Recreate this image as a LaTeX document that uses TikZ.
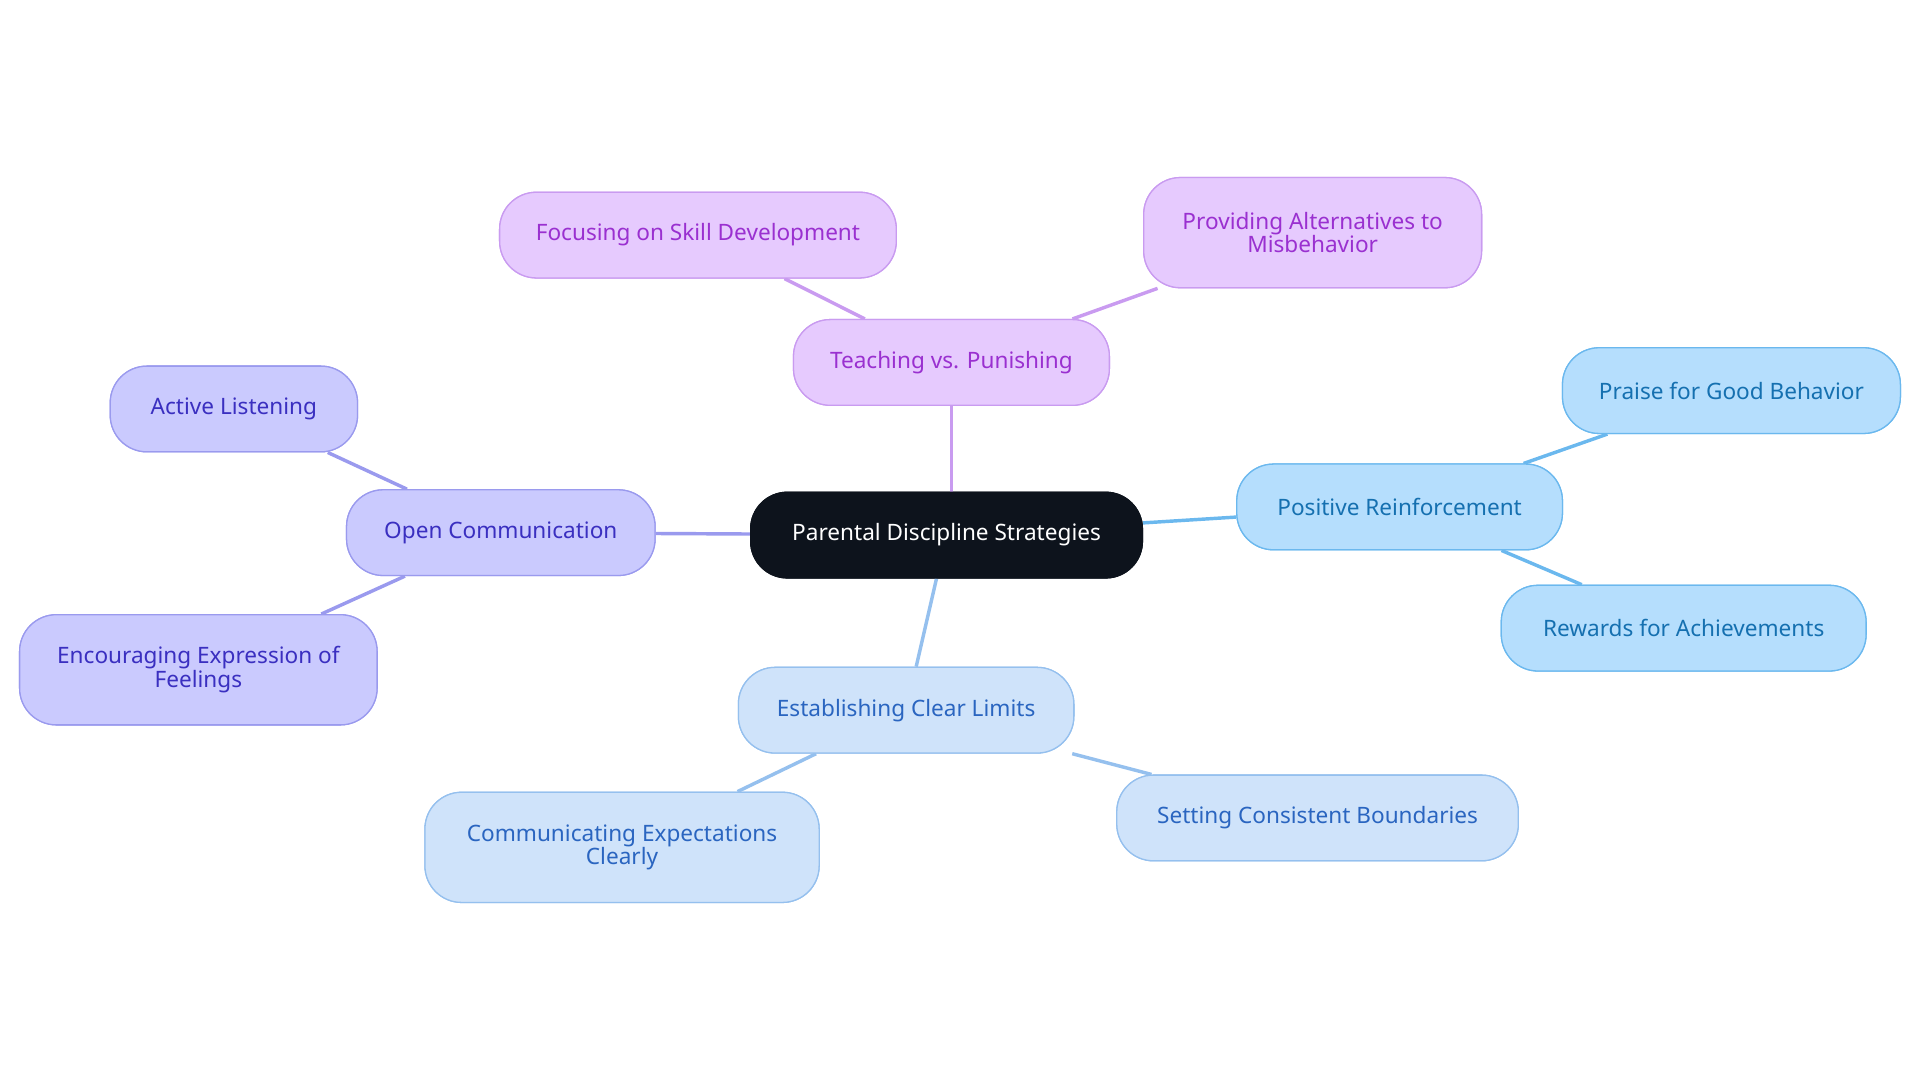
\documentclass[tikz,border=0pt]{standalone}
\usepackage{fontspec}
\setmainfont{Noto Sans}
\usetikzlibrary{positioning}
\definecolor{rootfill}{HTML}{0D131C}
\definecolor{tpfill}{HTML}{E6CAFE}\definecolor{tpline}{HTML}{C99BF0}\definecolor{tptext}{HTML}{9A30D0}
\definecolor{ocfill}{HTML}{CACAFE}\definecolor{ocline}{HTML}{9A9AEE}\definecolor{octext}{HTML}{3A2FC0}
\definecolor{prfill}{HTML}{B5DEFD}\definecolor{prline}{HTML}{6BB8EE}\definecolor{prtext}{HTML}{1570B0}
\definecolor{clfill}{HTML}{CFE3FA}\definecolor{clline}{HTML}{95C0EE}\definecolor{cltext}{HTML}{2A65C0}
\begin{document}
\begin{tikzpicture}[x=0.02cm,y=-0.02cm,
        box/.style={rounded corners=0.6cm, align=center, minimum height=1.4cm, inner sep=2pt, font=\fontsize{10.5}{11}\selectfont, line width=0.6pt},
        tall/.style={minimum height=1.8cm},
        root/.style={box, fill=rootfill, draw=rootfill, text=white},
        tp/.style={box, fill=tpfill, draw=tpline, text=tptext},
        oc/.style={box, fill=ocfill, draw=ocline, text=octext},
        pr/.style={box, fill=prfill, draw=prline, text=prtext},
        cl/.style={box, fill=clfill, draw=clline, text=cltext},
        link/.style={line width=1.6pt}
    ]
    \useasboundingbox (0,0) rectangle (1568,884);
    % Links
    \coordinate (rootTop) at (773,402);
    \coordinate (rootBot) at (765,472);
    \coordinate (rootL) at (613,437);
    \coordinate (rootR) at (933,428);
    % Nodes
    \node[root, minimum width=6.4cm] (root) at (773,437) {Parental Discipline Strategies};
    \node[tp, minimum width=5.16cm] (teaching) at (777,296) {Teaching vs. Punishing};
    \node[tp, minimum width=6.48cm] (skill) at (570,192) {Focusing on Skill Development};
    \node[tp, tall, minimum width=5.52cm] (alternatives) at (1072,190) {Providing Alternatives to\\Misbehavior};
    \node[oc, minimum width=5.04cm] (openComm) at (409,435) {Open Communication};
    \node[oc, minimum width=4.04cm] (listening) at (191,334) {Active Listening};
    \node[oc, tall, minimum width=5.84cm] (feelings) at (162,547) {Encouraging Expression of\\Feelings};
    \node[pr, minimum width=5.32cm] (positive) at (1143,414) {Positive Reinforcement};
    \node[pr, minimum width=5.52cm] (praise) at (1414,319) {Praise for Good Behavior};
    \node[pr, minimum width=5.96cm] (rewards) at (1375,513) {Rewards for Achievements};
    \node[cl, minimum width=5.48cm] (limits) at (740,580) {Establishing Clear Limits};
    \node[cl, tall, minimum width=6.44cm] (expectations) at (508,692) {Communicating Expectations\\Clearly};
    \node[cl, minimum width=6.56cm] (boundaries) at (1076,668) {Setting Consistent Boundaries};
    % Connectors
    \begin{scope}[on background layer/.style={}]
    \end{scope}
    \draw[link, tpline] (root.north -| teaching.south) -- (teaching);
    \draw[link, tpline] (teaching) -- (skill);
    \draw[link, tpline] (teaching) -- (alternatives);
    \draw[link, ocline] (root) -- (openComm);
    \draw[link, ocline] (openComm) -- (listening);
    \draw[link, ocline] (openComm) -- (feelings);
    \draw[link, prline] (root) -- (positive);
    \draw[link, prline] (positive) -- (praise);
    \draw[link, prline] (positive) -- (rewards);
    \draw[link, clline] (root) -- (limits);
    \draw[link, clline] (limits) -- (expectations);
    \draw[link, clline] (limits) -- (boundaries);
    % redraw nodes on top
    \node[root, minimum width=6.4cm] at (773,437) {Parental Discipline Strategies};
    \node[tp, minimum width=5.16cm] at (777,296) {Teaching vs. Punishing};
    \node[tp, minimum width=6.48cm] at (570,192) {Focusing on Skill Development};
    \node[tp, tall, minimum width=5.52cm] at (1072,190) {Providing Alternatives to\\Misbehavior};
    \node[oc, minimum width=5.04cm] at (409,435) {Open Communication};
    \node[oc, minimum width=4.04cm] at (191,334) {Active Listening};
    \node[oc, tall, minimum width=5.84cm] at (162,547) {Encouraging Expression of\\Feelings};
    \node[pr, minimum width=5.32cm] at (1143,414) {Positive Reinforcement};
    \node[pr, minimum width=5.52cm] at (1414,319) {Praise for Good Behavior};
    \node[pr, minimum width=5.96cm] at (1375,513) {Rewards for Achievements};
    \node[cl, minimum width=5.48cm] at (740,580) {Establishing Clear Limits};
    \node[cl, tall, minimum width=6.44cm] at (508,692) {Communicating Expectations\\Clearly};
    \node[cl, minimum width=6.56cm] at (1076,668) {Setting Consistent Boundaries};
\end{tikzpicture}
\end{document}
